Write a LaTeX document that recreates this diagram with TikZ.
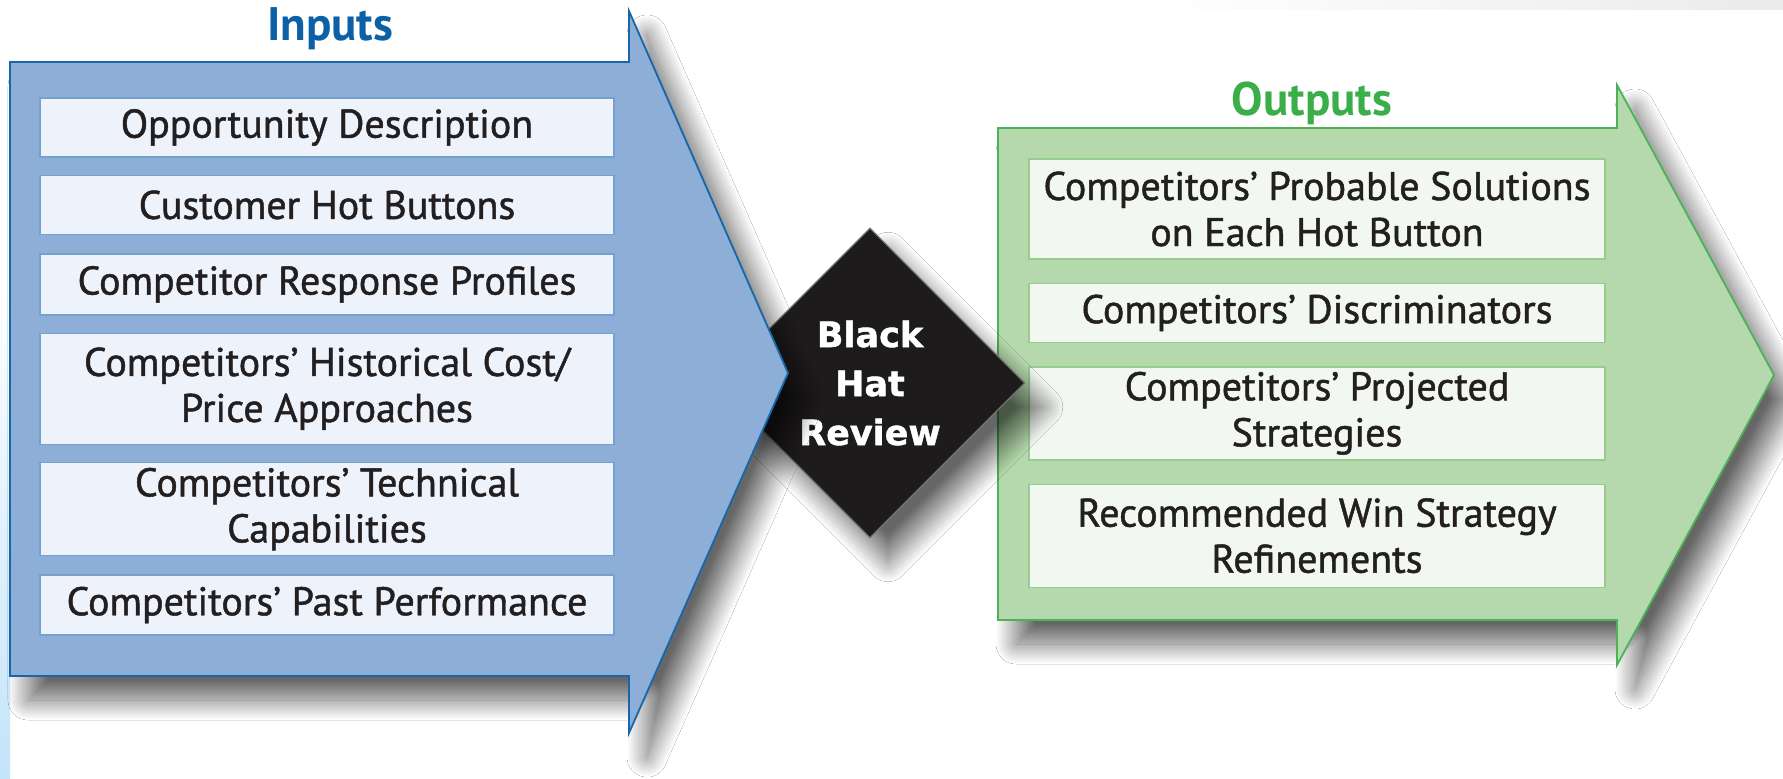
\documentclass[tikz,border=0pt]{standalone}
\usepackage{fontspec}
\setmainfont{PT Sans}
\newfontfamily\boxfont{PT Sans}[FakeBold=1.2]
\newfontfamily\hatfont{DejaVu Sans}[FakeBold=1.2]
\usetikzlibrary{shapes.geometric,positioning,shadows.blur}

\definecolor{infill}{RGB}{141,174,214}
\definecolor{inline}{RGB}{22,102,172}
\definecolor{inboxfill}{RGB}{238,242,250}
\definecolor{inboxline}{RGB}{118,160,208}
\definecolor{intitle}{RGB}{12,96,166}
\definecolor{outfill}{RGB}{181,217,172}
\definecolor{outline}{RGB}{76,178,88}
\definecolor{outboxfill}{RGB}{243,247,241}
\definecolor{outboxline}{RGB}{150,204,142}
\definecolor{outtitle}{RGB}{58,174,73}
\definecolor{textcol}{RGB}{35,31,32}
\definecolor{hatcol}{RGB}{30,27,28}
\definecolor{edgeblue}{RGB}{195,228,250}

\begin{document}
\begin{tikzpicture}[x=0.5pt,y=-0.5pt,
    dropshade/.style={blur shadow={shadow xshift=9pt,shadow yshift=-12pt,
      shadow blur radius=10pt,shadow blur steps=30,shadow opacity=60}},
    title/.style={anchor=base,font=\bfseries\fontsize{23.5}{26}\selectfont},
    inbox/.style={draw=inboxline,fill=inboxfill,line width=0.7pt,
      minimum width=287pt,inner sep=0pt,align=center,text=textcol,
      font=\boxfont\fontsize{20}{23}\selectfont},
    outbox/.style={draw=outboxline,fill=outboxfill,line width=0.7pt,
      minimum width=288pt,inner sep=0pt,align=center,text=textcol,
      font=\boxfont\fontsize{20}{23}\selectfont}]
  \useasboundingbox (0,0) rectangle (1783,778);
  \fill[white] (0,0) rectangle (1783,778);
  \shade[top color=white,bottom color=edgeblue] (0,280) rectangle (10,778);
  \shade[left color=white,right color=black!8] (1150,0) rectangle (1783,9);

  % Output arrow
  \filldraw[dropshade,fill=outfill,draw=outline,line width=0.9pt]
    (998,128) -- (1617,128) -- (1617,85) -- (1774,375)
    -- (1617,665) -- (1617,620) -- (998,620) -- cycle;
  \node[title,text=outtitle] (outt) at (1312,115) {Outputs};

  % Add the output boxes
  \node[outbox,minimum height=50pt] (o1) at (1317,209)
    {Competitors’ Probable Solutions\\on Each Hot Button};
  \node[outbox,minimum height=29.5pt,below=11.5pt of o1] (o2)
    {Competitors’ Discriminators};
  \node[outbox,minimum height=46.5pt,below=11.5pt of o2] (o3)
    {Competitors’ Projected\\Strategies};
  \node[outbox,minimum height=51.5pt,below=11.5pt of o3] (o4)
    {Recommended Win Strategy\\Refinements};

  % The review in the middle
  \node[diamond,dropshade,fill=hatcol,draw=black!55,line width=0.6pt,
    minimum width=155pt,minimum height=155pt,inner sep=0pt,
    align=center,text=white,
    font=\hatfont\bfseries\fontsize{17.5}{24.5}\selectfont] (hat) at (870,383)
    {Black\\Hat\\Review};

  % Input arrow
  \filldraw[dropshade,fill=infill,draw=inline,line width=0.9pt]
    (10,62) -- (629,62) -- (629,11) -- (788,373)
    -- (629,733) -- (629,676) -- (10,676) -- cycle;
  \node[title,text=intitle] (int) at (330,40) {Inputs};

  % Add the input boxes
  \node[inbox,minimum height=29.5pt] (i1) at (327,127.5)
    {Opportunity Description};
  \node[inbox,minimum height=29.5pt,below=8.5pt of i1] (i2)
    {Customer Hot Buttons};
  \node[inbox,minimum height=30.5pt,below=9pt of i2] (i3)
    {Competitor Response Profiles};
  \node[inbox,minimum height=55.5pt,below=8.5pt of i3] (i4)
    {Competitors’ Historical Cost/\\Price Approaches};
  \node[inbox,minimum height=46.5pt,below=8.5pt of i4] (i5)
    {Competitors’ Technical\\Capabilities};
  \node[inbox,minimum height=30pt,below=9pt of i5] (i6)
    {Competitors’ Past Performance};
\end{tikzpicture}
\end{document}
